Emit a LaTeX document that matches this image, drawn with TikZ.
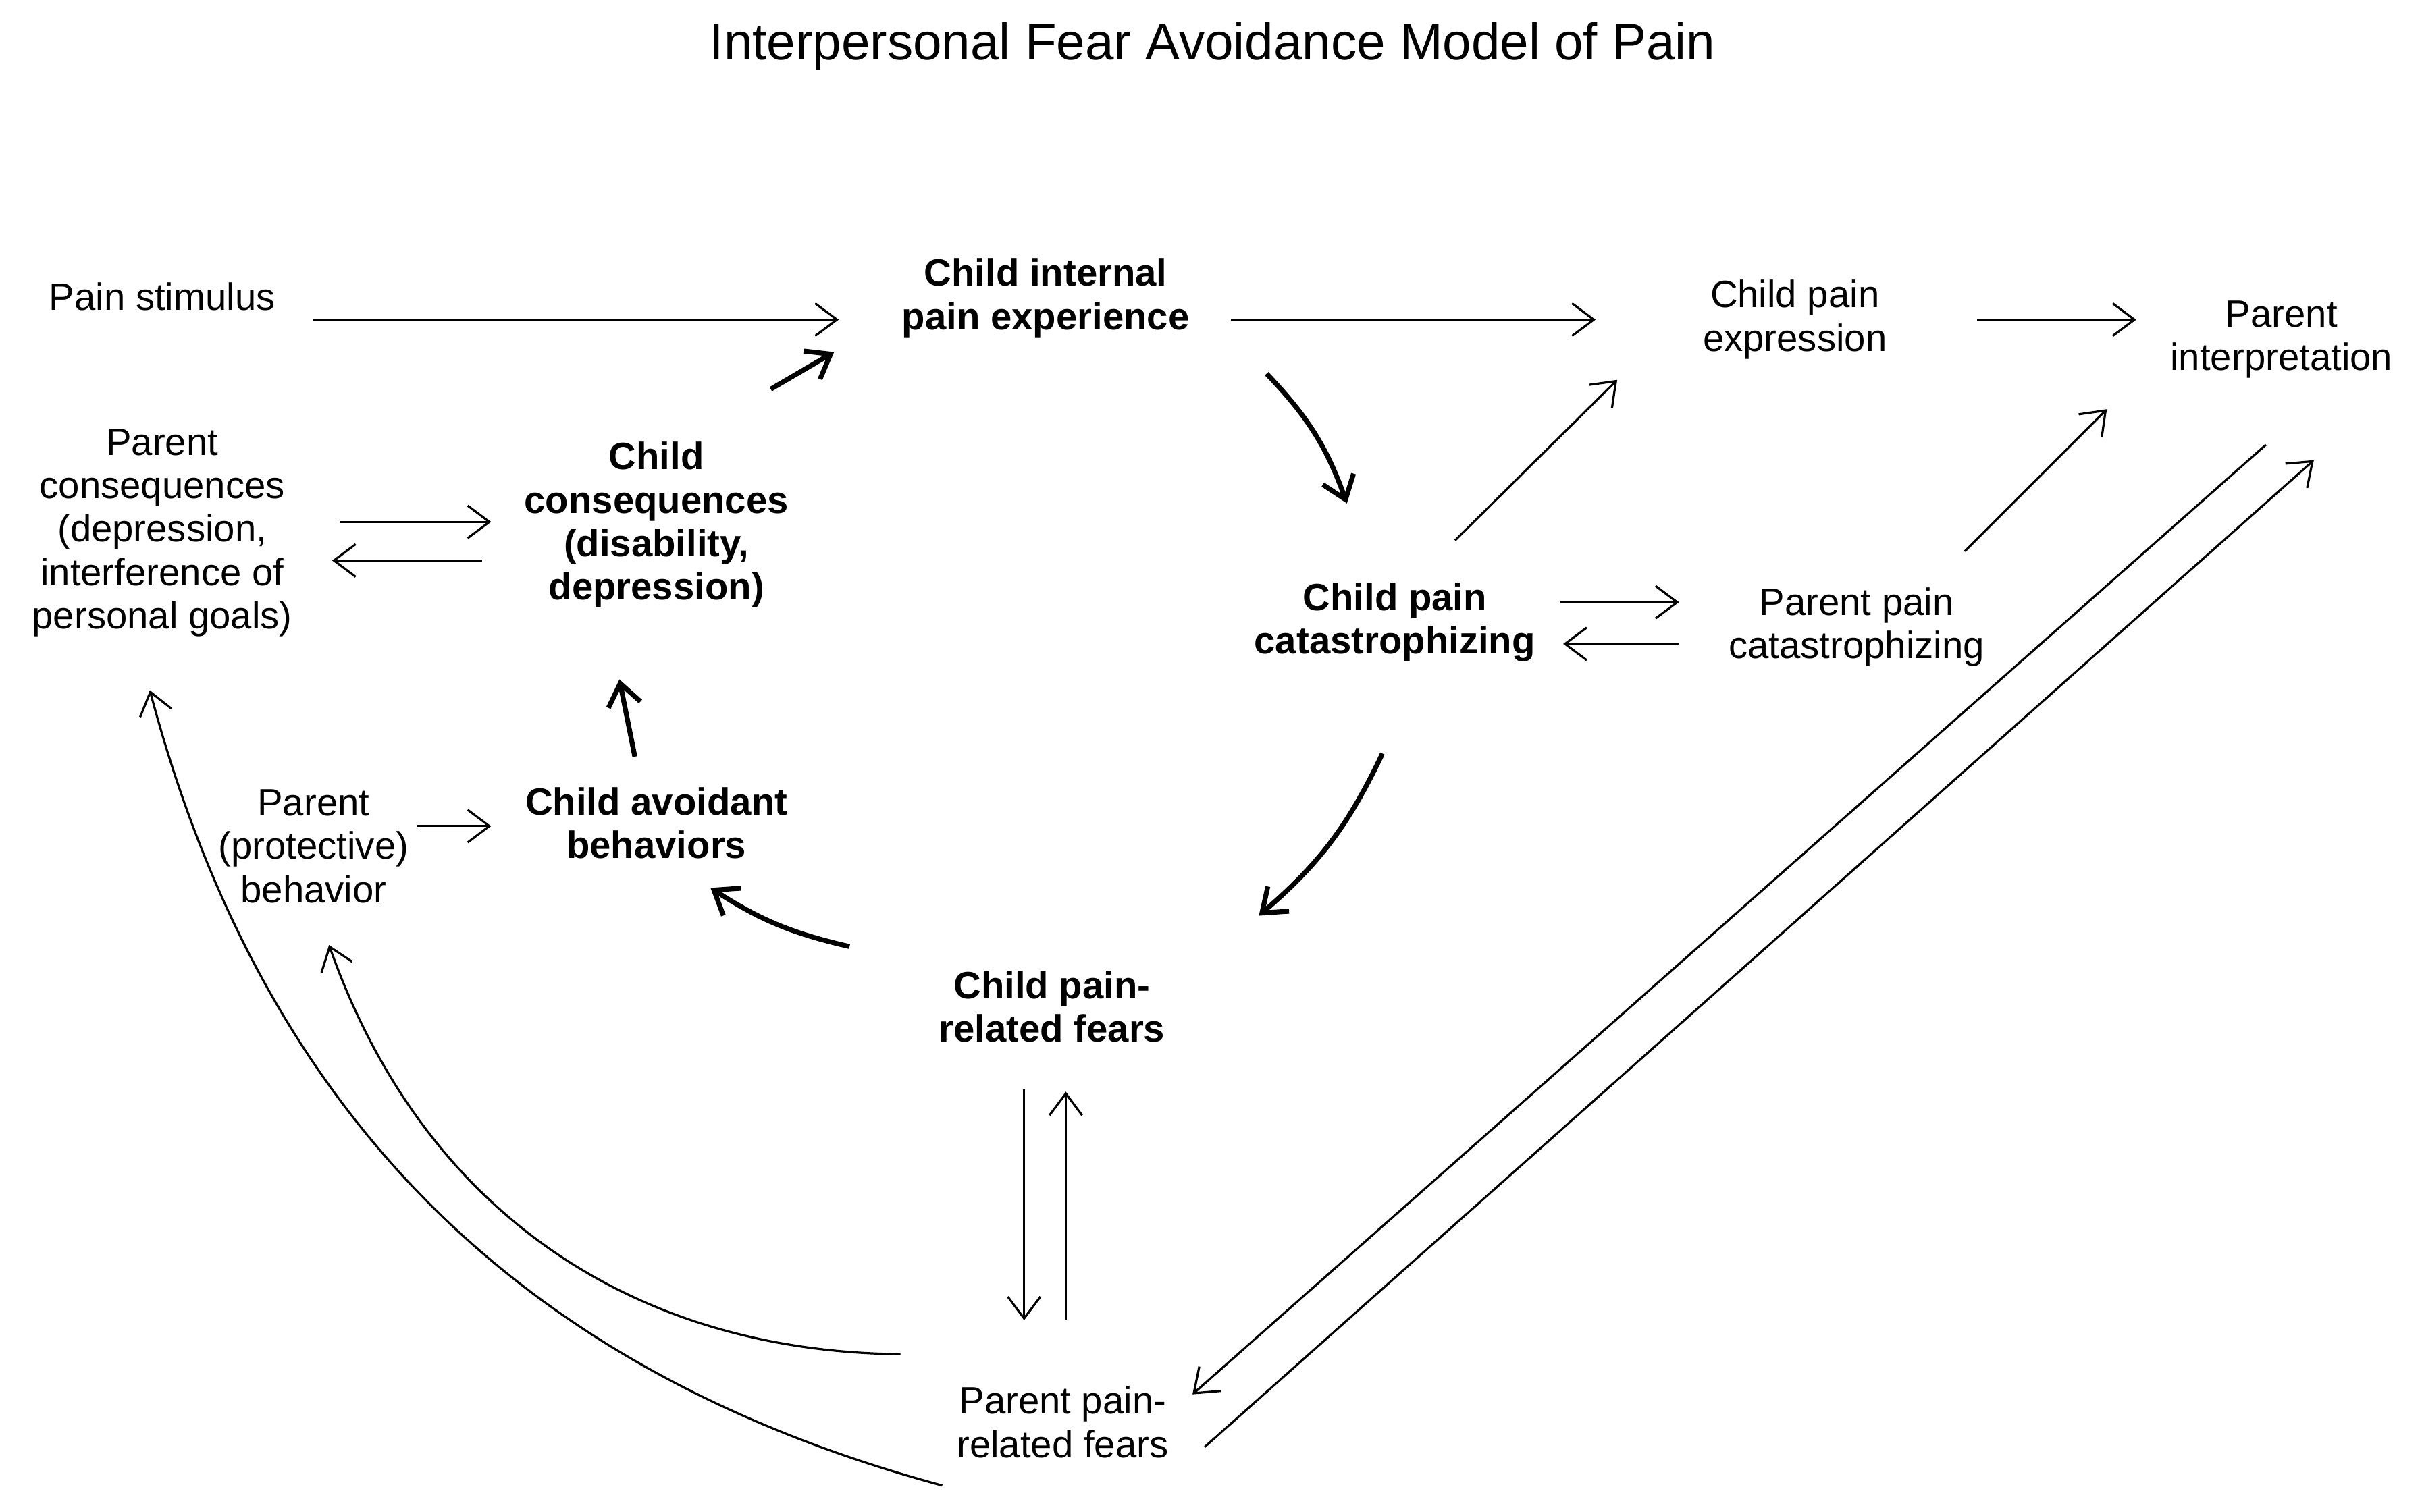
\documentclass[tikz,border=0pt]{standalone}
\usepackage{fontspec}
\setmainfont{Liberation Sans}
\usetikzlibrary{calc,arrows.meta}
\begin{document}
\begin{tikzpicture}[x=0.01cm,y=-0.01cm,
    lbl/.style={align=center,font=\fontsize{7}{8}\selectfont},
    key/.style={lbl,font=\fontsize{7}{8}\selectfont\bfseries},
    arr/.style={-{Straight Barb[length=4pt,width=6pt]},line width=0.4pt},
    heavy/.style={arr,line width=0.9pt}]
    \useasboundingbox (0,0) rectangle (1568,979);

    \node[font=\fontsize{9.5}{11}\selectfont] (title) at (785,30) {Interpersonal Fear Avoidance Model of Pain};

    \node[lbl] (stim) at (105,192) {Pain stimulus};
    \node[key] (internal) at (677,193) {Child internal\\pain experience};
    \node[lbl] (expr) at (1162,207) {Child pain\\expression};
    \node[lbl] (interp) at (1477,220) {Parent\\interpretation};
    \node[lbl] (pcons) at (105,345) {Parent\\consequences\\(depression,\\interference of\\personal goals)};
    \node[key] (ccons) at (425,340) {Child\\consequences\\(disability,\\depression)};
    \node[key] (ccat) at (903,403) {Child pain\\catastrophizing};
    \node[lbl] (pcat) at (1202,406) {Parent pain\\catastrophizing};
    \node[lbl] (pprot) at (203,548) {Parent\\(protective)\\behavior};
    \node[key] (cavoid) at (425,533) {Child avoidant\\behaviors};
    \node[key] (cfear) at (681,652) {Child pain-\\related fears};
    \node[lbl] (pfear) at (688,921) {Parent pain-\\related fears};

    % top row
    \draw[arr] ($(stim)+(98,15)$) -- ($(internal)+(-134,14)$);
    \draw[arr] ($(internal)+(120,14)$) -- ($(expr)+(-129,0)$);
    \draw[arr] ($(expr)+(118,0)$) -- ($(interp)+(-94,-13)$);

    % child cycle
    \draw[heavy] ($(ccons)+(74,-88)$) -- ($(internal)+(-137,35)$);
    \draw[heavy] ($(internal)+(143,49)$) to[bend left=12] ($(ccat)+(-31,-77)$);
    \draw[heavy] ($(ccat)+(-8,85)$) to[bend left=12] ($(cfear)+(134,-59)$);
    \draw[heavy] ($(cfear)+(-131,-39)$) to[bend left=10] ($(cavoid)+(35,42)$);
    \draw[heavy] ($(cavoid)+(-14,-43)$) -- ($(ccons)+(-24,100)$);

    % parent links
    \draw[arr] ($(ccat)+(39,-53)$) -- ($(expr)+(-115,39)$);
    \draw[arr] ($(ccat)+(107,-13)$) -- ($(pcat)+(-115,-16)$);
    \draw[arr] ($(pcat)+(-115,11)$) -- ($(ccat)+(109,14)$);
    \draw[arr] ($(pcat)+(70,-49)$) -- ($(interp)+(-113,45)$);
    \draw[arr] ($(pcons)+(115,-7)$) -- ($(ccons)+(-107,-2)$);
    \draw[arr] ($(ccons)+(-113,23)$) -- ($(pcons)+(110,18)$);
    \draw[arr] ($(pprot)+(67,-13)$) -- ($(cavoid)+(-107,2)$);
    \draw[arr] ($(cfear)+(-18,53)$) -- ($(pfear)+(-25,-66)$);
    \draw[arr] ($(pfear)+(2,-66)$) -- ($(cfear)+(9,55)$);
    \draw[arr] ($(interp)+(-10,68)$) -- ($(pfear)+(84,-18)$);
    \draw[arr] ($(pfear)+(92,16)$) -- ($(interp)+(21,78)$);
    \draw[arr] ($(pfear)+(-105,-44)$) to[bend left=35] ($(pprot)+(10,64)$);
    \draw[arr] ($(pfear)+(-78,41)$) to[bend left=30] ($(pcons)+(-8,102)$);
\end{tikzpicture}
\end{document}
